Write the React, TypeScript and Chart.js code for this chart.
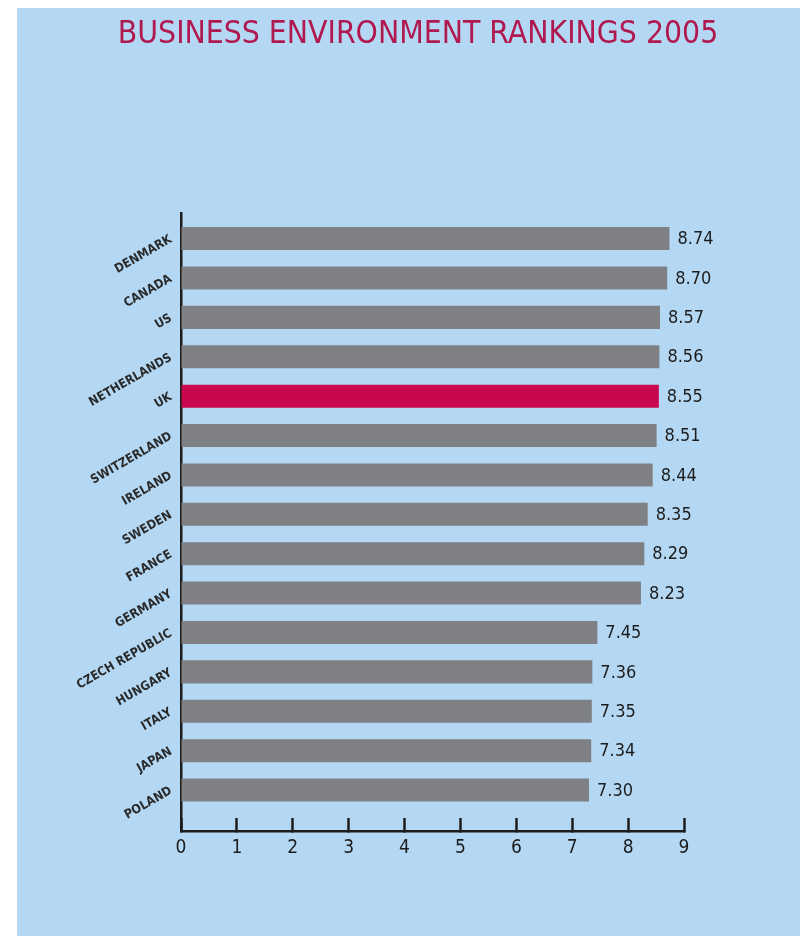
import React, { useEffect, useRef } from "react";
import { Chart, registerables } from "chart.js";

Chart.register(...registerables);

const TITLE = "BUSINESS ENVIRONMENT RANKINGS 2005";
const categories = [
  "DENMARK",
  "CANADA",
  "US",
  "NETHERLANDS",
  "UK",
  "SWITZERLAND",
  "IRELAND",
  "SWEDEN",
  "FRANCE",
  "GERMANY",
  "CZECH REPUBLIC",
  "HUNGARY",
  "ITALY",
  "JAPAN",
  "POLAND",
];
const scores = [8.74, 8.7, 8.57, 8.56, 8.55, 8.51, 8.44, 8.35, 8.29, 8.23, 7.45, 7.36, 7.35, 7.34, 7.3];
const highlighted = ["UK"];
const xTickValues = [0, 1, 2, 3, 4, 5, 6, 7, 8, 9];

const FONT = '"DejaVu Sans Condensed", "Liberation Sans", sans-serif';
const BG = "#b4d8f3";
const GRAY = "#7f8084";
const RED = "#c8074f";
const TITLE_COLOR = "#b0194f";
const INK = "#1c1c1c";

const valueLabels = {
  id: "valueLabels",
  afterDatasetsDraw(chart: any) {
    const ctx = chart.ctx;
    const meta = chart.getDatasetMeta(0);
    ctx.save();
    ctx.font = `18px ${FONT}`;
    ctx.fillStyle = INK;
    ctx.textAlign = "left";
    ctx.textBaseline = "middle";
    meta.data.forEach((bar: any, i: number) => {
      ctx.fillText(scores[i].toFixed(2), bar.x + 8, bar.y + 1);
    });
    ctx.restore();
  },
};

const centeredTitle = {
  id: "centeredTitle",
  afterDraw(chart: any) {
    const ctx = chart.ctx;
    ctx.save();
    ctx.font = `31.6px ${FONT}`;
    ctx.fillStyle = TITLE_COLOR;
    ctx.textAlign = "center";
    ctx.textBaseline = "middle";
    ctx.fillText(TITLE, 401, 27);
    ctx.restore();
  },
};

export default function App() {
  const ref = useRef<HTMLCanvasElement | null>(null);

  useEffect(() => {
    if (!ref.current) return;
    const chart = new Chart(ref.current, {
      type: "bar",
      data: {
        datasets: [
          {
            data: scores.map((v, i) => ({ x: v, y: i })),
            backgroundColor: (c: any) =>
              highlighted.includes(categories[c.dataIndex]) ? RED : GRAY,
            borderWidth: 0,
            barPercentage: 0.585,
            categoryPercentage: 1,
          } as any,
        ],
      },
      plugins: [valueLabels, centeredTitle],
      options: {
        animation: false,
        responsive: true,
        maintainAspectRatio: false,
        indexAxis: "y",
        layout: { padding: { left: 0, right: 116, top: 205, bottom: 75 } },
        plugins: {
          legend: { display: false },
          tooltip: { enabled: false },
          title: { display: false },
        },
        scales: {
          x: {
            type: "linear",
            min: 0,
            max: 9,
            afterBuildTicks: (s: any) => {
              s.ticks = xTickValues.map((v) => ({ value: v }));
            },
            afterFit: (s: any) => {
              s.height = 30;
            },
            grid: {
              drawOnChartArea: false,
              drawTicks: true,
              tickLength: -13,
              tickWidth: 2.5,
              tickColor: INK,
            },
            border: { display: true, color: INK, width: 2.5 },
            ticks: {
              padding: 19,
              color: INK,
              font: { family: FONT, size: 19 },
              maxRotation: 0,
            },
          },
          y: {
            type: "linear",
            reverse: true,
            offset: false,
            min: -0.65,
            max: 15.04,
            afterBuildTicks: (s: any) => {
              s.ticks = categories.map((_, i) => ({ value: i }));
            },
            afterFit: (s: any) => {
              s.width = 164;
            },
            grid: { offset: false, drawOnChartArea: false, drawTicks: false },
            border: { display: true, color: INK, width: 2.5 },
            ticks: {
              padding: 10,
              color: "#2a2a2a",
              minRotation: 30,
              maxRotation: 30,
              font: { family: FONT, size: 12.5, weight: "bold" },
              callback: (v: any) => categories[v] ?? "",
            },
          },
        },
      } as any,
    });
    return () => chart.destroy();
  }, []);

  return (
    <div
      style={{
        position: "absolute",
        left: 0,
        top: 0,
        width: 805,
        height: 936,
        background: "#ffffff",
        overflow: "hidden",
      }}
    >
      <div
        style={{
          position: "absolute",
          left: 17,
          top: 8,
          width: 783,
          height: 928,
          background: BG,
        }}
      >
        <canvas ref={ref} />
      </div>
    </div>
  );
}
